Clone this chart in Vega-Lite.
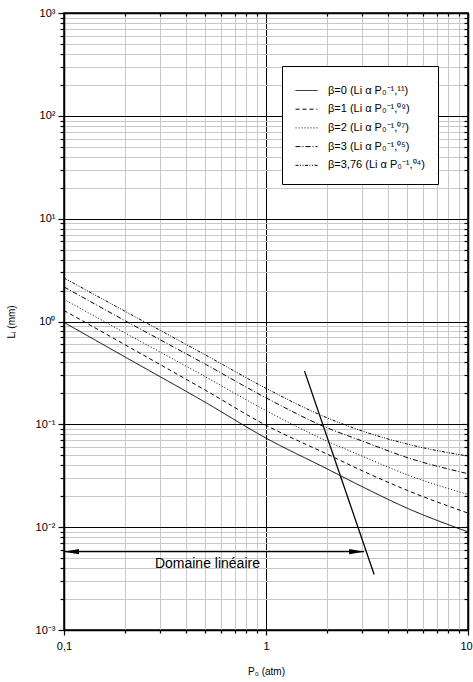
{
  "$schema": "https://vega.github.io/schema/vega-lite/v6.json",
  "width": 404,
  "height": 617,
  "autosize": {"type": "none"},
  "padding": {"left": 64, "top": 13, "right": 5, "bottom": 52},
  "background": "white",
  "config": {
    "view": {"stroke": "black", "strokeWidth": 1.5},
    "font": "Liberation Sans",
    "axis": {
      "labelFont": "Liberation Sans",
      "titleFont": "Liberation Sans",
      "labelColor": "black",
      "titleColor": "black",
      "titleFontWeight": "normal",
      "domainColor": "black",
      "domainWidth": 1.5,
      "tickColor": "black",
      "tickWidth": 1.2
    }
  },
  "datasets": {
    "curves": [
      {"P": 0.1, "L": 0.98, "beta": "β=0 (Li α P₀⁻¹,¹¹)"},
      {"P": 0.2, "L": 0.453, "beta": "β=0 (Li α P₀⁻¹,¹¹)"},
      {"P": 0.5, "L": 0.164, "beta": "β=0 (Li α P₀⁻¹,¹¹)"},
      {"P": 1, "L": 0.0735, "beta": "β=0 (Li α P₀⁻¹,¹¹)"},
      {"P": 2, "L": 0.037, "beta": "β=0 (Li α P₀⁻¹,¹¹)"},
      {"P": 3, "L": 0.0247, "beta": "β=0 (Li α P₀⁻¹,¹¹)"},
      {"P": 5, "L": 0.0153, "beta": "β=0 (Li α P₀⁻¹,¹¹)"},
      {"P": 10, "L": 0.009, "beta": "β=0 (Li α P₀⁻¹,¹¹)"},
      {"P": 0.1, "L": 1.28, "beta": "β=1 (Li α P₀⁻¹,⁰⁹)"},
      {"P": 0.2, "L": 0.596, "beta": "β=1 (Li α P₀⁻¹,⁰⁹)"},
      {"P": 0.5, "L": 0.215, "beta": "β=1 (Li α P₀⁻¹,⁰⁹)"},
      {"P": 1, "L": 0.098, "beta": "β=1 (Li α P₀⁻¹,⁰⁹)"},
      {"P": 2, "L": 0.0515, "beta": "β=1 (Li α P₀⁻¹,⁰⁹)"},
      {"P": 3, "L": 0.0353, "beta": "β=1 (Li α P₀⁻¹,⁰⁹)"},
      {"P": 5, "L": 0.0228, "beta": "β=1 (Li α P₀⁻¹,⁰⁹)"},
      {"P": 10, "L": 0.0137, "beta": "β=1 (Li α P₀⁻¹,⁰⁹)"},
      {"P": 0.1, "L": 1.64, "beta": "β=2 (Li α P₀⁻¹,⁰⁷)"},
      {"P": 0.2, "L": 0.776, "beta": "β=2 (Li α P₀⁻¹,⁰⁷)"},
      {"P": 0.5, "L": 0.291, "beta": "β=2 (Li α P₀⁻¹,⁰⁷)"},
      {"P": 1, "L": 0.136, "beta": "β=2 (Li α P₀⁻¹,⁰⁷)"},
      {"P": 2, "L": 0.0688, "beta": "β=2 (Li α P₀⁻¹,⁰⁷)"},
      {"P": 3, "L": 0.049, "beta": "β=2 (Li α P₀⁻¹,⁰⁷)"},
      {"P": 5, "L": 0.0323, "beta": "β=2 (Li α P₀⁻¹,⁰⁷)"},
      {"P": 10, "L": 0.0208, "beta": "β=2 (Li α P₀⁻¹,⁰⁷)"},
      {"P": 0.1, "L": 2.17, "beta": "β=3 (Li α P₀⁻¹,⁰⁵)"},
      {"P": 0.2, "L": 1.02, "beta": "β=3 (Li α P₀⁻¹,⁰⁵)"},
      {"P": 0.5, "L": 0.385, "beta": "β=3 (Li α P₀⁻¹,⁰⁵)"},
      {"P": 1, "L": 0.181, "beta": "β=3 (Li α P₀⁻¹,⁰⁵)"},
      {"P": 2, "L": 0.0927, "beta": "β=3 (Li α P₀⁻¹,⁰⁵)"},
      {"P": 3, "L": 0.0688, "beta": "β=3 (Li α P₀⁻¹,⁰⁵)"},
      {"P": 5, "L": 0.0475, "beta": "β=3 (Li α P₀⁻¹,⁰⁵)"},
      {"P": 10, "L": 0.0331, "beta": "β=3 (Li α P₀⁻¹,⁰⁵)"},
      {"P": 0.1, "L": 2.65, "beta": "β=3,76 (Li α P₀⁻¹,⁰⁴)"},
      {"P": 0.2, "L": 1.26, "beta": "β=3,76 (Li α P₀⁻¹,⁰⁴)"},
      {"P": 0.5, "L": 0.474, "beta": "β=3,76 (Li α P₀⁻¹,⁰⁴)"},
      {"P": 1, "L": 0.224, "beta": "β=3,76 (Li α P₀⁻¹,⁰⁴)"},
      {"P": 2, "L": 0.116, "beta": "β=3,76 (Li α P₀⁻¹,⁰⁴)"},
      {"P": 3, "L": 0.086, "beta": "β=3,76 (Li α P₀⁻¹,⁰⁴)"},
      {"P": 5, "L": 0.0643, "beta": "β=3,76 (Li α P₀⁻¹,⁰⁴)"},
      {"P": 10, "L": 0.0491, "beta": "β=3,76 (Li α P₀⁻¹,⁰⁴)"}
    ],
    "steep": [
      {"P": 1.55, "L": 0.331},
      {"P": 3.43, "L": 0.00347}
    ],
    "arrow": [
      {"P1": 0.1, "P2": 3.06, "L": 0.00578}
    ],
    "arrowheads": [
      {"P": 0.1, "L": 0.00578, "dir": "left"},
      {"P": 3.06, "L": 0.00578, "dir": "right"}
    ],
    "label": [
      {"P": 0.513, "L": 0.00397, "text": "Domaine linéaire"}
    ]
  },
  "layer": [
    {
      "data": {"name": "curves"},
      "mark": {"type": "line", "color": "black", "strokeWidth": 1, "interpolate": "monotone"},
      "encoding": {
        "x": {
          "field": "P", "type": "quantitative",
          "scale": {"type": "log", "domain": [0.1, 10], "nice": false},
          "axis": {
            "orient": "bottom",
            "title": "P₀  (atm)",
            "titleFontSize": 10,
            "titlePadding": 15,
            "values": [0.1,0.2,0.3,0.4,0.5,0.6,0.7,0.8,0.9,1,2,3,4,5,6,7,8,9,10],
            "labelExpr": "datum.value == 0.1 ? '0,1' : datum.value == 1 ? '1' : datum.value == 10 ? '10' : ''",
            "labelOverlap": false,
            "labelFlush": false,
            "labelFontSize": 11,
            "labelPadding": 5,
            "labelOffset": {"condition": {"test": "datum.value == 10", "value": -2}, "value": 0},
            "tickSize": {"condition": {"test": "abs(log(datum.value)/LN10 - round(log(datum.value)/LN10)) < 0.0001", "value": 5}, "value": 3},
            "grid": true,
            "gridColor": {"condition": {"test": "abs(log(datum.value)/LN10 - round(log(datum.value)/LN10)) < 0.0001", "value": "black"}, "value": "#c8c8c8"},
            "gridWidth": 1,
            "gridOpacity": 1
          }
        },
        "y": {
          "field": "L", "type": "quantitative",
          "scale": {"type": "log", "domain": [0.001, 1000], "nice": false},
          "axis": {
            "orient": "left",
            "title": "Lᵢ (mm)",
            "titleFontSize": 10,
            "titlePadding": 19,
            "values": [0.001,0.002,0.003,0.004,0.005,0.006,0.007,0.008,0.009,0.01,0.02,0.03,0.04,0.05,0.06,0.07,0.08,0.09,0.1,0.2,0.3,0.4,0.5,0.6,0.7,0.8,0.9,1,2,3,4,5,6,7,8,9,10,20,30,40,50,60,70,80,90,100,200,300,400,500,600,700,800,900,1000],
            "labelExpr": "datum.value == 1000 ? '10³' : datum.value == 100 ? '10²' : datum.value == 10 ? '10¹' : datum.value == 1 ? '10⁰' : datum.value == 0.1 ? '10⁻¹' : datum.value == 0.01 ? '10⁻²' : datum.value == 0.001 ? '10⁻³' : ''",
            "labelOverlap": false,
            "labelFlush": false,
            "labelFontSize": 11,
            "labelPadding": 3,
            "tickSize": {"condition": {"test": "abs(log(datum.value)/LN10 - round(log(datum.value)/LN10)) < 0.0001", "value": 6}, "value": 4},
            "grid": true,
            "gridColor": {"condition": {"test": "abs(log(datum.value)/LN10 - round(log(datum.value)/LN10)) < 0.0001", "value": "black"}, "value": "#c8c8c8"},
            "gridWidth": 1,
            "gridOpacity": 1
          }
        },
        "strokeDash": {
          "field": "beta", "type": "nominal",
          "scale": {
            "domain": ["β=0 (Li α P₀⁻¹,¹¹)", "β=1 (Li α P₀⁻¹,⁰⁹)", "β=2 (Li α P₀⁻¹,⁰⁷)", "β=3 (Li α P₀⁻¹,⁰⁵)", "β=3,76 (Li α P₀⁻¹,⁰⁴)"],
            "range": [[1, 0], [4, 3], [1, 2], [5, 2, 1, 2], [3, 1.5, 1, 1.5, 1, 1.5]]
          },
          "legend": {
            "orient": "none",
            "legendX": 218,
            "legendY": 53,
            "title": null,
            "strokeColor": "black",
            "fillColor": "white",
            "padding": 13,
            "symbolType": "stroke",
            "symbolSize": 484,
            "symbolStrokeColor": "black",
            "symbolStrokeWidth": 1,
            "labelFont": "Liberation Sans",
            "labelFontSize": 11,
            "labelColor": "black",
            "labelOffset": 10,
            "labelLimit": 300,
            "rowPadding": 1.7
          }
        }
      }
    },
    {
      "data": {"name": "arrow"},
      "mark": {"type": "rule", "color": "black", "strokeWidth": 1.2},
      "encoding": {
        "x": {"field": "P1", "type": "quantitative", "scale": {"type": "log", "domain": [0.1, 10], "nice": false}, "axis": null},
        "x2": {"field": "P2"},
        "y": {"field": "L", "type": "quantitative", "scale": {"type": "log", "domain": [0.001, 1000], "nice": false}, "axis": null}
      }
    },
    {
      "data": {"name": "arrowheads"},
      "mark": {"type": "point", "filled": true, "color": "black", "opacity": 1, "size": 900, "strokeWidth": 0},
      "encoding": {
        "x": {"field": "P", "type": "quantitative", "scale": {"type": "log", "domain": [0.1, 10], "nice": false}, "axis": null},
        "y": {"field": "L", "type": "quantitative", "scale": {"type": "log", "domain": [0.001, 1000], "nice": false}, "axis": null},
        "shape": {
          "field": "dir", "type": "nominal",
          "scale": {"domain": ["left", "right"], "range": ["M0,0L1,-0.17L1,0.17Z", "M0,0L-1,-0.17L-1,0.17Z"]},
          "legend": null
        }
      }
    },
    {
      "data": {"name": "label"},
      "mark": {"type": "text", "font": "Liberation Sans", "fontSize": 14, "align": "center", "baseline": "alphabetic", "color": "black"},
      "encoding": {
        "x": {"field": "P", "type": "quantitative", "scale": {"type": "log", "domain": [0.1, 10], "nice": false}, "axis": null},
        "y": {"field": "L", "type": "quantitative", "scale": {"type": "log", "domain": [0.001, 1000], "nice": false}, "axis": null},
        "text": {"field": "text", "type": "nominal"}
      }
    },
    {
      "data": {"name": "steep"},
      "mark": {"type": "line", "color": "black", "strokeWidth": 1.3},
      "encoding": {
        "x": {
          "field": "P", "type": "quantitative",
          "scale": {"type": "log", "domain": [0.1, 10], "nice": false},
          "axis": {
            "orient": "top",
            "title": null,
            "labels": false,
            "grid": false,
            "values": [0.1,0.2,0.3,0.4,0.5,0.6,0.7,0.8,0.9,1,2,3,4,5,6,7,8,9,10],
            "tickSize": {"condition": {"test": "abs(log(datum.value)/LN10 - round(log(datum.value)/LN10)) < 0.0001", "value": -5}, "value": -3}
          }
        },
        "y": {
          "field": "L", "type": "quantitative",
          "scale": {"type": "log", "domain": [0.001, 1000], "nice": false},
          "axis": {
            "orient": "right",
            "title": null,
            "labels": false,
            "grid": false,
            "values": [0.001,0.002,0.003,0.004,0.005,0.006,0.007,0.008,0.009,0.01,0.02,0.03,0.04,0.05,0.06,0.07,0.08,0.09,0.1,0.2,0.3,0.4,0.5,0.6,0.7,0.8,0.9,1,2,3,4,5,6,7,8,9,10,20,30,40,50,60,70,80,90,100,200,300,400,500,600,700,800,900,1000],
            "tickSize": {"condition": {"test": "abs(log(datum.value)/LN10 - round(log(datum.value)/LN10)) < 0.0001", "value": -6}, "value": -4}
          }
        }
      }
    }
  ]
}
